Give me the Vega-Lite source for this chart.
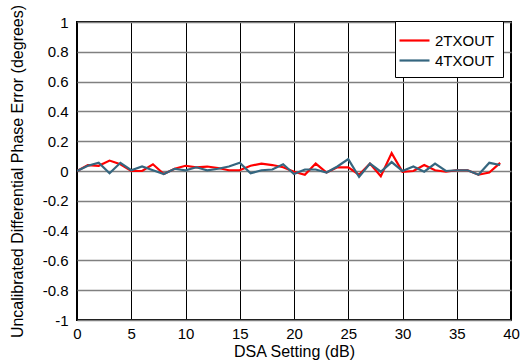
{
  "$schema": "https://vega.github.io/schema/vega-lite/v6.json",
  "width": 434,
  "height": 298,
  "autosize": {"type": "none"},
  "padding": {"left": 77, "top": 22, "right": 12, "bottom": 44},
  "background": "white",
  "config": {
    "font": "Liberation Sans",
    "view": {"stroke": "black", "strokeWidth": 2},
    "axis": {"labelFont": "Liberation Sans", "titleFont": "Liberation Sans", "labelColor": "black", "titleColor": "black", "titleFontWeight": "normal", "labelFontSize": 15, "titleFontSize": 16, "domain": false, "ticks": false}
  },
  "data": {
    "values": [
      {"x":0,"s":"2TXOUT","y":0},{"x":1,"s":"2TXOUT","y":0.04},{"x":2,"s":"2TXOUT","y":0.035},{"x":3,"s":"2TXOUT","y":0.07},{"x":4,"s":"2TXOUT","y":0.045},
      {"x":5,"s":"2TXOUT","y":0},{"x":6,"s":"2TXOUT","y":0},{"x":7,"s":"2TXOUT","y":0.045},{"x":8,"s":"2TXOUT","y":-0.02},{"x":9,"s":"2TXOUT","y":0.015},
      {"x":10,"s":"2TXOUT","y":0.035},{"x":11,"s":"2TXOUT","y":0.025},{"x":12,"s":"2TXOUT","y":0.03},{"x":13,"s":"2TXOUT","y":0.02},{"x":14,"s":"2TXOUT","y":0.005},
      {"x":15,"s":"2TXOUT","y":0.005},{"x":16,"s":"2TXOUT","y":0.035},{"x":17,"s":"2TXOUT","y":0.05},{"x":18,"s":"2TXOUT","y":0.04},{"x":19,"s":"2TXOUT","y":0.025},
      {"x":20,"s":"2TXOUT","y":-0.005},{"x":21,"s":"2TXOUT","y":-0.025},{"x":22,"s":"2TXOUT","y":0.05},{"x":23,"s":"2TXOUT","y":-0.01},{"x":24,"s":"2TXOUT","y":0.025},
      {"x":25,"s":"2TXOUT","y":0.025},{"x":26,"s":"2TXOUT","y":-0.025},{"x":27,"s":"2TXOUT","y":0.05},{"x":28,"s":"2TXOUT","y":-0.035},{"x":29,"s":"2TXOUT","y":0.12},
      {"x":30,"s":"2TXOUT","y":-0.005},{"x":31,"s":"2TXOUT","y":0.0},{"x":32,"s":"2TXOUT","y":0.04},{"x":33,"s":"2TXOUT","y":0.005},{"x":34,"s":"2TXOUT","y":-0.005},
      {"x":35,"s":"2TXOUT","y":0.005},{"x":36,"s":"2TXOUT","y":0.005},{"x":37,"s":"2TXOUT","y":-0.025},{"x":38,"s":"2TXOUT","y":-0.01},{"x":39,"s":"2TXOUT","y":0.055},
      {"x":0,"s":"4TXOUT","y":0},{"x":1,"s":"4TXOUT","y":0.035},{"x":2,"s":"4TXOUT","y":0.055},{"x":3,"s":"4TXOUT","y":-0.015},{"x":4,"s":"4TXOUT","y":0.055},
      {"x":5,"s":"4TXOUT","y":0.005},{"x":6,"s":"4TXOUT","y":0.03},{"x":7,"s":"4TXOUT","y":0.005},{"x":8,"s":"4TXOUT","y":-0.02},{"x":9,"s":"4TXOUT","y":0.015},
      {"x":10,"s":"4TXOUT","y":0.005},{"x":11,"s":"4TXOUT","y":0.025},{"x":12,"s":"4TXOUT","y":0.005},{"x":13,"s":"4TXOUT","y":0.015},{"x":14,"s":"4TXOUT","y":0.03},
      {"x":15,"s":"4TXOUT","y":0.055},{"x":16,"s":"4TXOUT","y":-0.015},{"x":17,"s":"4TXOUT","y":0.005},{"x":18,"s":"4TXOUT","y":0.01},{"x":19,"s":"4TXOUT","y":0.045},
      {"x":20,"s":"4TXOUT","y":-0.02},{"x":21,"s":"4TXOUT","y":0.01},{"x":22,"s":"4TXOUT","y":0.01},{"x":23,"s":"4TXOUT","y":-0.01},{"x":24,"s":"4TXOUT","y":0.03},
      {"x":25,"s":"4TXOUT","y":0.08},{"x":26,"s":"4TXOUT","y":-0.04},{"x":27,"s":"4TXOUT","y":0.05},{"x":28,"s":"4TXOUT","y":-0.005},{"x":29,"s":"4TXOUT","y":0.06},
      {"x":30,"s":"4TXOUT","y":0.0},{"x":31,"s":"4TXOUT","y":0.03},{"x":32,"s":"4TXOUT","y":-0.005},{"x":33,"s":"4TXOUT","y":0.05},{"x":34,"s":"4TXOUT","y":0},
      {"x":35,"s":"4TXOUT","y":0.005},{"x":36,"s":"4TXOUT","y":0.005},{"x":37,"s":"4TXOUT","y":-0.025},{"x":38,"s":"4TXOUT","y":0.055},{"x":39,"s":"4TXOUT","y":0.04}
    ]
  },
  "mark": {"type": "line", "strokeWidth": 2.2, "clip": true},
  "encoding": {
    "x": {"field": "x", "type": "quantitative", "scale": {"domain": [0, 40], "nice": false}, "axis": {"values": [0,5,10,15,20,25,30,35,40], "title": "DSA Setting (dB)", "gridColor": "black", "gridOpacity": 1, "gridWidth": 1, "labelPadding": 6, "titlePadding": 2, "labelFlush": false}},
    "y": {"field": "y", "type": "quantitative", "scale": {"domain": [-1, 1], "nice": false}, "axis": {"values": [-1,-0.8,-0.6,-0.4,-0.2,0,0.2,0.4,0.6,0.8,1], "labelExpr": "replace(format(datum.value, '~g'), '−', '-')", "title": "Uncalibrated Differential Phase Error (degrees)", "gridColor": "#808080", "gridOpacity": 1, "gridWidth": 1.5, "labelPadding": 9, "titlePadding": 17, "labelFlush": false}},
    "color": {"field": "s", "type": "nominal", "scale": {"domain": ["2TXOUT", "4TXOUT"], "range": ["#ff0000", "#35667f"]},
      "legend": {"title": null, "orient": "none", "legendX": 318, "legendY": -1, "symbolType": "M-1.5,0H1.5", "symbolSize": 400, "symbolStrokeWidth": 2.2, "symbolFillColor": "transparent", "labelFontSize": 15, "labelFont": "Liberation Sans", "labelColor": "black", "labelOffset": 9, "strokeColor": "black", "fillColor": "white", "padding": 8, "rowPadding": -2, "symbolOffset": 0}}
  }
}
